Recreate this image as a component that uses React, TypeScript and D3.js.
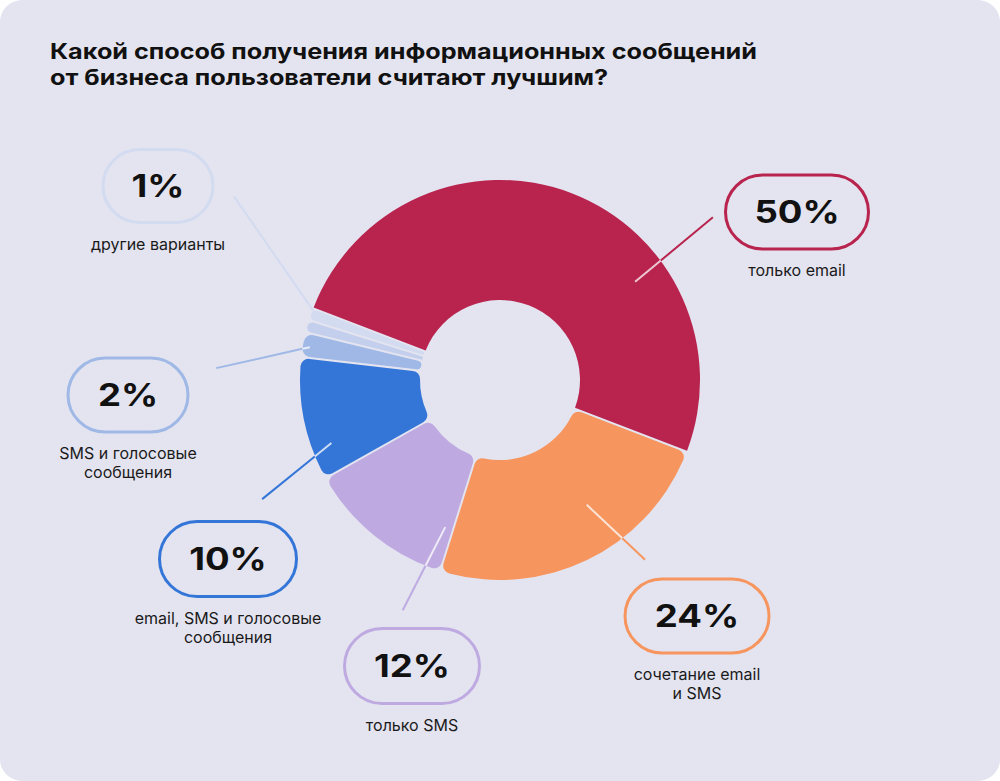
import React, { useEffect, useRef } from "react";
import * as d3 from "d3";

// ---- data ----
const categories = [
  "только email",
  "сочетание email и SMS",
  "только SMS",
  "email, SMS и голосовые сообщения",
  "SMS и голосовые сообщения",
  "без подписи",
  "другие варианты",
];
const values = [50, 24, 12, 10, 2, 1, 1];
const percentLabels = ["50%", "24%", "12%", "10%", "2%", "", "1%"];
const labelLines = [
  ["только email"],
  ["сочетание email", "и SMS"],
  ["только SMS"],
  ["email, SMS и голосовые", "сообщения"],
  ["SMS и голосовые", "сообщения"],
  [],
  ["другие варианты"],
];
const colors = ["#B8244E", "#F6955E", "#BEAAE1", "#3476D8", "#9FB8E6", "#C3CFEC", "#D3DBF0"];

const title = [
  "Какой способ получения информационных сообщений",
  "от бизнеса пользователи считают лучшим?",
];

// ---- layout ----
const width = 1000;
const height = 781;
const cx = 500, cy = 380;
const innerR = 80, outerR = 200;

// pill centre + size for each label
const pills = [
  { x: 797, y: 212, w: 143, h: 74 },
  { x: 697, y: 616, w: 144, h: 74 },
  { x: 412, y: 666, w: 135, h: 75 },
  { x: 228, y: 559, w: 137, h: 75 },
  { x: 128, y: 395, w: 120, h: 74 },
  null,
  { x: 158, y: 186, w: 110, h: 73 },
];
// leader lines: [angle deg, radius] for inner and outer end
const leaders = [
  [[54, 167], [52.6, 268]],
  [[145.2, 152], [141.1, 231]],
  [[200.4, 157], [202.9, 250]],
  [[249.5, 180], [243.4, 266]],
  [[279.8, 193], [272.4, 284]],
  null,
  [[289.5, 195], [304.6, 323]],
];

function polar(a: number, r: number): [number, number] {
  const t = (a * Math.PI) / 180;
  return [cx + r * Math.sin(t), cy - r * Math.cos(t)];
}

// stretch text horizontally to mimic the wider typeface of the original
function widen(sel: d3.Selection<any, any, any, any>, factor: number) {
  sel.each(function () {
    const el = this as SVGTextElement;
    const w = el.getComputedTextLength();
    if (w > 0) {
      el.setAttribute("textLength", String(w * factor));
      el.setAttribute("lengthAdjust", "spacingAndGlyphs");
    }
  });
}

export default function App() {
  const ref = useRef<SVGSVGElement>(null);

  useEffect(() => {
    const svg = d3.select(ref.current);
    svg.selectAll("*").remove();

    svg.append("rect")
      .attr("width", width).attr("height", height)
      .attr("rx", 22).attr("fill", "#E4E4F0");

    // title
    const titleText = svg.append("g")
      .selectAll("text")
      .data(title)
      .join("text")
      .attr("x", 50)
      .attr("y", (d, i) => 59 + i * 26)
      .attr("font-family", "Inter, sans-serif")
      .attr("font-weight", 700)
      .attr("font-size", 21)
      .attr("fill", "#111")
      .text(d => d);
    widen(titleText, 1.2);

    const pie = d3.pie<number>()
      .sort(null)
      .value(d => d)
      .startAngle((-69 * Math.PI) / 180)
      .endAngle(((360 - 69) * Math.PI) / 180);

    const arc = d3.arc<d3.PieArcDatum<number>>()
      .innerRadius(innerR)
      .outerRadius(outerR)
      .cornerRadius(8)
      .padAngle(0.009);

    const arcs = pie(values);

    svg.append("g")
      .attr("transform", `translate(${cx},${cy})`)
      .selectAll("path")
      .data(arcs)
      .join("path")
      .attr("fill", (d, i) => colors[i])
      .attr("d", arc);

    // leader lines: light part inside slice, coloured part outside
    const lg = svg.append("g");
    leaders.forEach((l, i) => {
      if (!l) return;
      const p1 = polar(l[0][0], l[0][1]);
      const p2 = polar(l[1][0], l[1][1]);
      // find where segment crosses outer radius
      let t = 0;
      for (let k = 0; k <= 200; k++) {
        const tt = k / 200;
        const x = p1[0] + (p2[0] - p1[0]) * tt - cx;
        const y = p1[1] + (p2[1] - p1[1]) * tt - cy;
        if (Math.hypot(x, y) >= outerR) { t = tt; break; }
      }
      const pm: [number, number] = [p1[0] + (p2[0] - p1[0]) * t, p1[1] + (p2[1] - p1[1]) * t];
      lg.append("line")
        .attr("x1", p1[0]).attr("y1", p1[1]).attr("x2", pm[0]).attr("y2", pm[1])
        .attr("stroke", i >= 5 ? colors[i] : "rgba(255,255,255,0.75)")
        .attr("stroke-width", 2);
      lg.append("line")
        .attr("x1", pm[0]).attr("y1", pm[1]).attr("x2", p2[0]).attr("y2", p2[1])
        .attr("stroke", colors[i])
        .attr("stroke-width", 2);
    });

    // pills + labels
    const lab = svg.append("g");
    pills.forEach((p, i) => {
      if (!p) return;
      lab.append("rect")
        .attr("x", p.x - p.w / 2).attr("y", p.y - p.h / 2)
        .attr("width", p.w).attr("height", p.h)
        .attr("rx", p.h / 2)
        .attr("fill", "none")
        .attr("stroke", colors[i])
        .attr("stroke-width", 3);
      const pct = lab.append("text")
        .attr("x", p.x).attr("y", p.y)
        .attr("dy", "0.36em")
        .attr("text-anchor", "middle")
        .attr("font-family", "Inter, sans-serif")
        .attr("font-weight", 700)
        .attr("font-size", 31)
        .attr("fill", "#111")
        .text(percentLabels[i]);
      widen(pct, 1.18);
      lab.append("g")
        .selectAll("text")
        .data(labelLines[i])
        .join("text")
        .attr("x", p.x)
        .attr("y", (d, j) => p.y + p.h / 2 + 27 + j * 19)
        .attr("text-anchor", "middle")
        .attr("font-family", "Inter, sans-serif")
        .attr("font-size", 16)
        .attr("fill", "#1a1a1a")
        .text(d => d);
    });
  }, []);

  return (
    <>
      <style>{`body{margin:0;background:#fff}`}</style>
      <svg ref={ref} width={width} height={height} style={{ display: "block" }} />
    </>
  );
}
